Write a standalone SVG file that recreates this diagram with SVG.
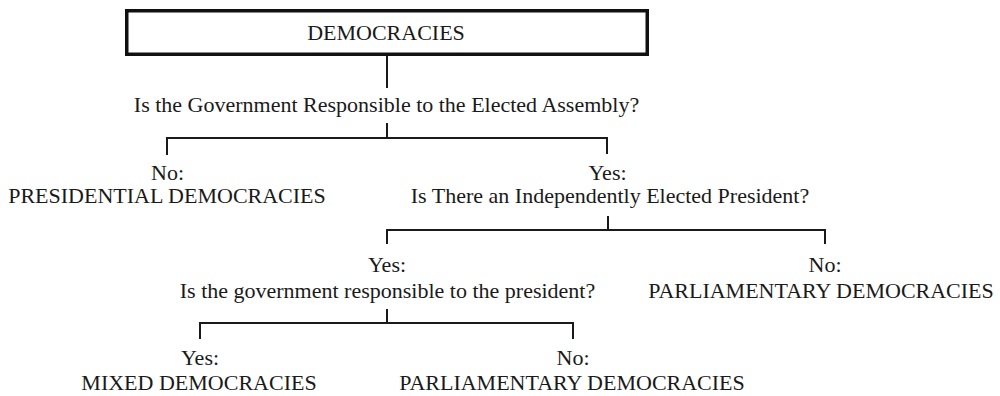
<svg xmlns="http://www.w3.org/2000/svg" width="1000" height="396" viewBox="0 0 1000 396">
<style>
  text { font-family: "Liberation Serif", "Times New Roman", serif; font-size: 22px; fill: #1a1a1a; text-anchor: middle; }
  .conn { stroke: #1a1a1a; stroke-width: 2; fill: none; stroke-linecap: square; stroke-linejoin: miter; }
  .box { stroke: #111; stroke-width: 3.5; fill: #fff; }
</style>
<rect width="1000" height="396" fill="#fff"/>
<g id="connectors">
  <path class="conn" d="M387,56 V87"/>
  <path class="conn" d="M387,124 V138 M167,154 V138 H607 V153"/>
  <path class="conn" d="M608,217 V230 M387,243 V230 H825 V243"/>
  <path class="conn" d="M387,310 V323 M200,338 V323 H573 V338"/>
</g>
<g id="democracies">
  <rect class="box" x="126.75" y="10.75" width="520.5" height="43.5"/>
  <text x="386" y="40">DEMOCRACIES</text>
</g>
<g id="q1">
  <text x="386.5" y="112">Is the Government Responsible to the Elected Assembly?</text>
</g>
<g id="presidential">
  <text x="167.5" y="180">No:</text>
  <text x="167" y="203">PRESIDENTIAL DEMOCRACIES</text>
</g>
<g id="q2">
  <text x="607.5" y="180">Yes:</text>
  <text x="610" y="203">Is There an Independently Elected President?</text>
</g>
<g id="q3">
  <text x="387" y="272">Yes:</text>
  <text x="387.5" y="298">Is the government responsible to the president?</text>
</g>
<g id="parliamentary1">
  <text x="825" y="272">No:</text>
  <text x="821" y="298">PARLIAMENTARY DEMOCRACIES</text>
</g>
<g id="mixed">
  <text x="200" y="365">Yes:</text>
  <text x="199" y="390">MIXED DEMOCRACIES</text>
</g>
<g id="parliamentary2">
  <text x="573" y="365">No:</text>
  <text x="572" y="390">PARLIAMENTARY DEMOCRACIES</text>
</g>
</svg>
